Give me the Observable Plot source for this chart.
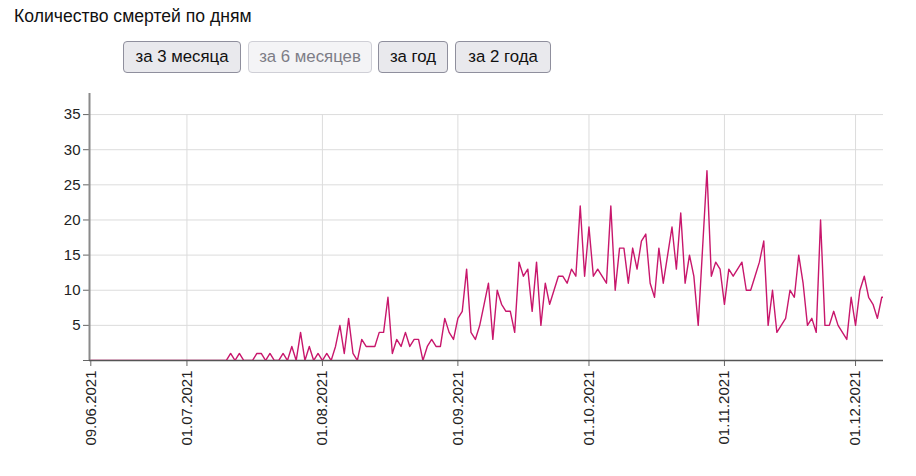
<!DOCTYPE html>
<html><head><meta charset="utf-8">
<script src="https://cdn.jsdelivr.net/npm/d3@7"></script>
<script src="https://cdn.jsdelivr.net/npm/@observablehq/plot@0.6"></script>
<style>
body{margin:0;background:#fff;width:916px;height:476px;overflow:hidden;position:relative;font-family:"Liberation Sans",Arial,sans-serif}
#title{position:absolute;left:14px;top:6px;font-size:17.6px;line-height:20px;color:#111;white-space:nowrap}
.btn{position:absolute;top:41px;height:32px;box-sizing:border-box;border:1px solid #8f8f9d;border-radius:4px;background:#e9e9ed;color:#111;font-size:16.8px;display:flex;align-items:center;justify-content:center;white-space:nowrap}
.btn.dis{background:#f4f4f6;border-color:#cfcfd6;color:#7d7d86}
#chart{position:absolute;left:0;top:80px}
</style></head><body>
<div id="title"></div>
<div id="buttons"></div>
<div id="chart"></div>
<script>
const titleText = "Количество смертей по дням";
const buttonLabels = ["за 3 месяца", "за 6 месяцев", "за год", "за 2 года"];
const activeButton = 1;
const startDate = "2021-06-09";
const deaths = [
  0,0,0,0,0,0,0,0,0,0, 0,0,0,0,0,0,0,0,0,0, 0,0,0,0,0,0,0,0,0,0,
  0,0,1,0,1,0,0,0,1,1, 0,1,0,0,1,0,2,0,4,0, 2,0,1,0,1,0,2,5,1,6,
  1,0,3,2,2,2,4,4,9,1, 3,2,4,2,3,3,0,2,3,2, 2,6,4,3,6,7,13,4,3,5,
  8,11,3,10,8,7,7,4,14,12, 13,7,14,5,11,8,10,12,12,11, 13,12,22,12,19,12,13,12,11,22,
  10,16,16,11,16,13,17,18,11,9, 16,11,15,19,13,21,11,15,12,5, 16,27,12,14,13,8,13,12,13,14,
  10,10,12,14,17,5,10,4,5,6, 10,9,15,11,5,6,4,20,5,5, 7,5,4,3,9,5,10,12,9,8,
  6,9,9
];
const xTickDates = ["2021-06-09","2021-07-01","2021-08-01","2021-09-01","2021-10-01","2021-11-01","2021-12-01"];
const xGridDates = ["2021-07-01","2021-08-01","2021-09-01","2021-10-01","2021-11-01","2021-12-01"];
const yTicks = [0,5,10,15,20,25,30,35];
const yGrid = [5,10,15,20,25,30,35];

document.getElementById("title").textContent = titleText;
const btnPos = [[123,118],[248,124],[378,70],[455,96]];
const bc = document.getElementById("buttons");
buttonLabels.forEach((t,i)=>{
  const b = document.createElement("div");
  b.className = "btn" + (i===activeButton ? " dis" : "");
  b.style.left = btnPos[i][0]+"px"; b.style.width = btnPos[i][1]+"px";
  b.textContent = t;
  bc.appendChild(b);
});

const start = new Date(startDate);
const data = deaths.map((v,i)=>({date: d3.utcDay.offset(start,i), v}));
const xStart = new Date(start.getTime() - 0.3*864e5);
const xEnd = new Date(d3.utcDay.offset(start,181).getTime() + 0.4*864e5);
const xt = xTickDates.map(d=>new Date(d));
const xg = xGridDates.map(d=>new Date(d));
const fmt = d3.utcFormat("%d.%m.%Y");

const chart = Plot.plot({
  width: 916, height: 396,
  marginLeft: 89, marginRight: 33, marginTop: 13, marginBottom: 116,
  style: {fontFamily: "'Liberation Sans', Arial, sans-serif", fontSize: "15px", color: "#222", background: "transparent", overflow: "visible"},
  x: {type: "utc", domain: [xStart, xEnd]},
  y: {domain: [0, 38]},
  marks: [
    Plot.ruleY(yGrid, {stroke: "#dcdcdc", strokeWidth: 1}),
    Plot.ruleX(xg, {y1: 0, y2: 35, stroke: "#dcdcdc", strokeWidth: 1}),
    Plot.axisY({ticks: yTicks, tickSize: 6, tickPadding: 3, stroke: "#666", tickFormat: d => d === 0 ? "" : String(d), label: null}),
    Plot.axisX({ticks: xt, tickSize: 6, tickPadding: 4, tickRotate: -90, stroke: "#666", tickFormat: fmt, label: null}),
    Plot.ruleX([xStart], {y1: 0, y2: 38, stroke: "#8a8a8a", strokeWidth: 2}),
    Plot.ruleY([0], {stroke: "#555", strokeWidth: 1.5}),
    Plot.line(data, {x: "date", y: "v", stroke: "#c8176c", strokeWidth: 1.4, clip: true})
  ]
});
document.getElementById("chart").appendChild(chart);
</script>
</body></html>
